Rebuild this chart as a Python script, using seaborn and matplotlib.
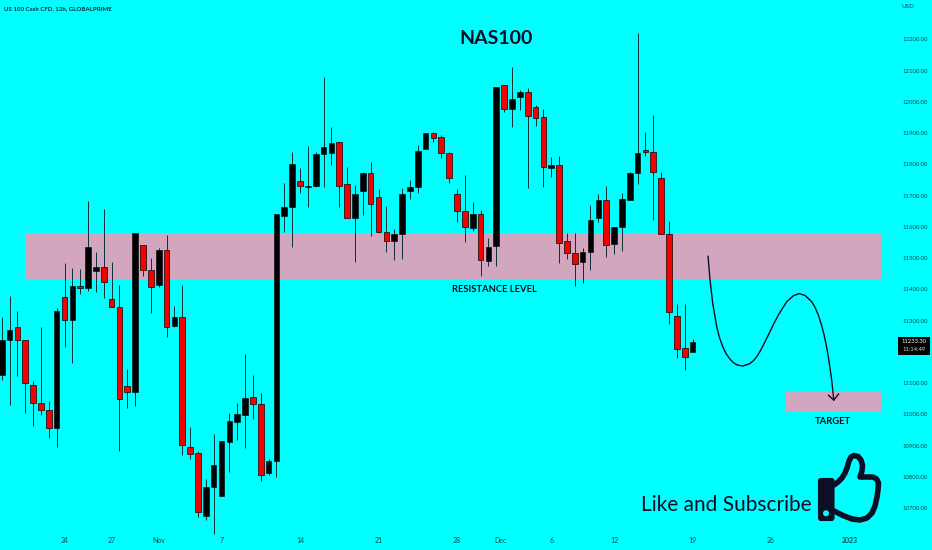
import matplotlib
matplotlib.use('Agg')  # Use non-GUI backend

import matplotlib.pyplot as plt
import pandas as pd
import seaborn as sns
from matplotlib.patches import Circle, FancyBboxPatch, PathPatch, Rectangle
from matplotlib.path import Path
from matplotlib.transforms import Affine2D

# 12h candles
opens = [11126, 11237, 11279, 11237, 11093, 11038, 11014, 10956, 11375, 11303, 11412, 11405, 11459, 11473, 11370,
         11344, 11091, 11073, 11541, 11462, 11415, 11526, 11282, 11312, 10895, 10876, 10676, 10769, 10740, 10913,
         10977, 10998, 11055, 11035, 10814, 10852, 11634, 11663, 11747, 11728, 11731, 11834, 11836, 11871, 11736,
         11628, 11714, 11772, 11695, 11585, 11556, 11577, 11716, 11727, 11850, 11902, 11887, 11836, 11704, 11650,
         11598, 11642, 11491, 11539, 12055, 11978, 12017, 12032, 11983, 11951, 11788, 11798, 11554, 11517, 11488,
         11519, 11629, 11686, 11547, 11599, 11687, 11773, 11845, 11839, 11756, 11577, 11316, 11212, 11199]
highs = [11313, 11379, 11331, 11237, 11107, 11281, 11043, 11340, 11484, 11470, 11466, 11683, 11521, 11657, 11489,
         11414, 11144, 11580, 11541, 11500, 11532, 11574, 11348, 11414, 10959, 10884, 10794, 10938, 10915, 11004,
         11038, 11194, 11126, 11070, 10857, 11640, 11742, 11839, 11788, 11859, 11841, 12081, 11921, 11873, 11793,
         11734, 11777, 11807, 11722, 11667, 11592, 11724, 11750, 11862, 11902, 11905, 11894, 11841, 11722, 11766,
         11679, 11654, 11564, 12049, 12055, 12113, 12038, 12044, 11990, 11977, 11825, 11827, 11580, 11580, 11532,
         11670, 11706, 11731, 11600, 11710, 11776, 12220, 11904, 11958, 11777, 11619, 11353, 11354, 11242]
lows = [11110, 11030, 11124, 11004, 10963, 10997, 10926, 10897, 11217, 11164, 11385, 11395, 11393, 11372, 11344,
        10884, 11022, 11028, 11443, 11326, 11407, 11249, 11279, 10870, 10856, 10673, 10662, 10617, 10740, 10815,
        10918, 10892, 10985, 10787, 10806, 10801, 11585, 11537, 11708, 11665, 11727, 11729, 11797, 11665, 11628,
        11489, 11637, 11572, 11580, 11521, 11494, 11498, 11691, 11708, 11850, 11873, 11822, 11742, 11617, 11553,
        11588, 11444, 11476, 11475, 11967, 11919, 11974, 11724, 11923, 11729, 11759, 11486, 11498, 11411, 11422,
        11462, 11615, 11503, 11513, 11524, 11687, 11738, 11828, 11622, 11577, 11288, 11180, 11142, 11199]
closes = [11238, 11271, 11237, 11100, 11038, 11013, 10956, 11332, 11303, 11412, 11404, 11537, 11473, 11425, 11344,
          11048, 11073, 11580, 11462, 11409, 11526, 11279, 11312, 10901, 10875, 10689, 10769, 10838, 10915, 10979,
          11000, 11052, 11035, 10806, 10852, 11640, 11664, 11802, 11731, 11731, 11835, 11856, 11870, 11731, 11628,
          11706, 11772, 11675, 11585, 11556, 11577, 11706, 11728, 11843, 11902, 11886, 11836, 11758, 11650, 11599,
          11642, 11495, 11537, 12049, 11979, 12011, 12032, 11956, 11950, 11793, 11798, 11550, 11518, 11483, 11519,
          11621, 11686, 11541, 11600, 11691, 11774, 11836, 11839, 11777, 11577, 11329, 11211, 11183, 11233]

# hand drawn path and arrow head (candle number, price)
curve_idx = [89.97, 90.23, 90.57, 91.08, 91.42, 91.85, 92.27, 92.78, 93.2, 93.63, 94.39, 95.24, 95.75, 96.18, 96.6,
             97.02, 97.45, 97.87, 98.38, 98.93, 99.49, 100.0, 100.84, 101.57, 102.33, 103.18, 103.6, 104.03, 104.41,
             104.76, 105.05, 105.3, 105.73, 105.99]
curve_price = [11507, 11430, 11356, 11281, 11247, 11217, 11195, 11177, 11166, 11159, 11155, 11162, 11172, 11185, 11202,
               11222, 11244, 11265, 11292, 11318, 11341, 11361, 11380, 11387, 11381, 11361, 11343, 11318, 11288,
               11254, 11220, 11185, 11110, 11046]
head_idx = [105.3, 105.99, 106.62]
head_price = [11062, 11046, 11066]

# zones
resistance_zone = (2.97, 112.0, 11430, 11582)
target_zone = (99.9, 112.0, 11012, 11071)

# axis labels, 11200 sits behind the price tag so it is left out
y_ticks = [10700, 10800, 10900, 11000, 11100, 11300, 11400, 11500, 11600, 11700, 11800, 11900, 12000, 12100, 12200]
x_tick_pos = [8, 14, 20, 28, 38, 48, 58, 63.5, 70, 78, 88, 98, 108]
x_tick_labels = ['24', '27', 'Nov', '7', '14', '21', '28', 'Dec', '6', '12', '19', '26', '2023']

BG = '#00ffff'
PINK = '#d3a6bf'
INK = '#0e0e24'
AXIS_TEXT = '#0b4c5a'

sns.set_theme(style='white', rc={'axes.facecolor': BG, 'figure.facecolor': BG, 'savefig.facecolor': BG})
plt.rcParams['font.family'] = ['Lato', 'DejaVu Sans']

df = pd.DataFrame({'idx': range(len(opens)), 'open': opens, 'high': highs, 'low': lows, 'close': closes})
df['bottom'] = df[['open', 'close']].min(axis=1)
df['height'] = (df['close'] - df['open']).abs()
up = df[df['close'] >= df['open']]
down = df[df['close'] < df['open']]

W, H = 932, 550
fig = plt.figure(figsize=(W / 100, H / 100), dpi=100)
ax = fig.add_axes([0, 15 / H, 899 / W, 535 / H])

# pixels measured from the top left of the picture
px = Affine2D().scale(1, -1).translate(0, H)


def fx(x):
    return x / W


def fy(y):
    return 1 - y / H


for zone in (resistance_zone, target_zone):
    ax.add_patch(Rectangle((zone[0], zone[2]), zone[1] - zone[0], zone[3] - zone[2],
                           facecolor=PINK, edgecolor='none', zorder=0.5))

ax.vlines(df['idx'], df['low'], df['high'], color='#0b2f35', linewidth=0.7, zorder=0.9)
sns.barplot(data=down, x='idx', y='height', bottom=down['bottom'].values, native_scale=True, width=0.72,
            color='#f50000', saturation=1, errorbar=None, edgecolor='#301010', linewidth=0.6, ax=ax)
sns.barplot(data=up, x='idx', y='height', bottom=up['bottom'].values, native_scale=True, width=0.72,
            color='black', saturation=1, errorbar=None, edgecolor='black', linewidth=0.4, ax=ax)

sns.lineplot(x=curve_idx, y=curve_price, sort=False, estimator=None, color=INK, linewidth=1.0, ax=ax)
sns.lineplot(x=head_idx, y=head_price, sort=False, estimator=None, color=INK, linewidth=1.0, ax=ax)

ax.set_xlim(-0.217, 114.3)
ax.set_ylim(10614.4, 12326.4)
ax.set_xlabel('')
ax.set_ylabel('')
ax.yaxis.tick_right()
ax.set_yticks(y_ticks, [f'{v:.2f}' for v in y_ticks])
ax.set_xticks(x_tick_pos, x_tick_labels)
ax.tick_params(axis='y', length=0, pad=2.8, labelsize=4.3, labelcolor=AXIS_TEXT)
ax.tick_params(axis='x', length=0, pad=1.5, labelsize=5, labelcolor=AXIS_TEXT)
ax.get_xticklabels()[-1].set_fontweight('bold')
sns.despine(ax=ax, left=True, bottom=True, right=True, top=True)

# overlay texts
fig.text(fx(4), fy(9), 'US 100 Cash CFD, 12h, GLOBALPRIME', fontsize=4.4, fontweight='bold', color='#0c2c40', va='center')
fig.text(fx(908), fy(7), 'USD', fontsize=4.6, color=AXIS_TEXT, ha='center', va='center')
fig.text(fx(496.5), fy(39), 'NAS100', fontsize=14, fontweight='bold', color=INK, ha='center', va='center')
fig.text(fx(494), fy(290), 'RESISTANCE LEVEL', fontsize=6.8, fontweight='bold', color=INK, ha='center', va='center')
fig.text(fx(833), fy(421), 'TARGET', fontsize=6.8, fontweight='bold', color=INK, ha='center', va='center')
fig.text(fx(726), fy(505), 'Like and Subscribe', fontsize=15, color=INK, ha='center', va='center')

# current price tag
fig.add_artist(Rectangle((898, 337), 32, 17.5, transform=px, facecolor='black', edgecolor='none'))
fig.text(fx(914), fy(341.7), '11233.30', fontsize=4.2, color='white', ha='center', va='center')
fig.text(fx(914), fy(349.8), '11:14:49', fontsize=4.2, color='#d8d8d8', ha='center', va='center')

# thumbs up icon
hand = [(834, 485), (838, 482), (842, 478), (845, 473), (847, 468), (849, 461), (851, 457), (854, 455.5), (858, 456.5),
        (861, 460), (862.5, 465), (862, 471), (860, 477), (867, 477), (873, 477), (876.5, 479), (878.5, 483),
        (878, 490), (877, 497), (875, 506), (872, 513), (867, 518), (860, 520), (852, 519), (843, 515.5), (834, 511)]
fig.add_artist(PathPatch(Path(hand), transform=px, facecolor='none', edgecolor=INK, linewidth=4.0,
                         joinstyle='round', capstyle='round'))
fig.add_artist(FancyBboxPatch((818.5, 478.5), 15.5, 42, boxstyle='round,pad=0,rounding_size=2.5', transform=px,
                              facecolor=INK, edgecolor=INK, linewidth=0.8))
fig.add_artist(Circle((826, 513.3), 3, transform=px, facecolor=BG, edgecolor='none'))

fig.savefig('out.png', dpi=100)
plt.close(fig)
